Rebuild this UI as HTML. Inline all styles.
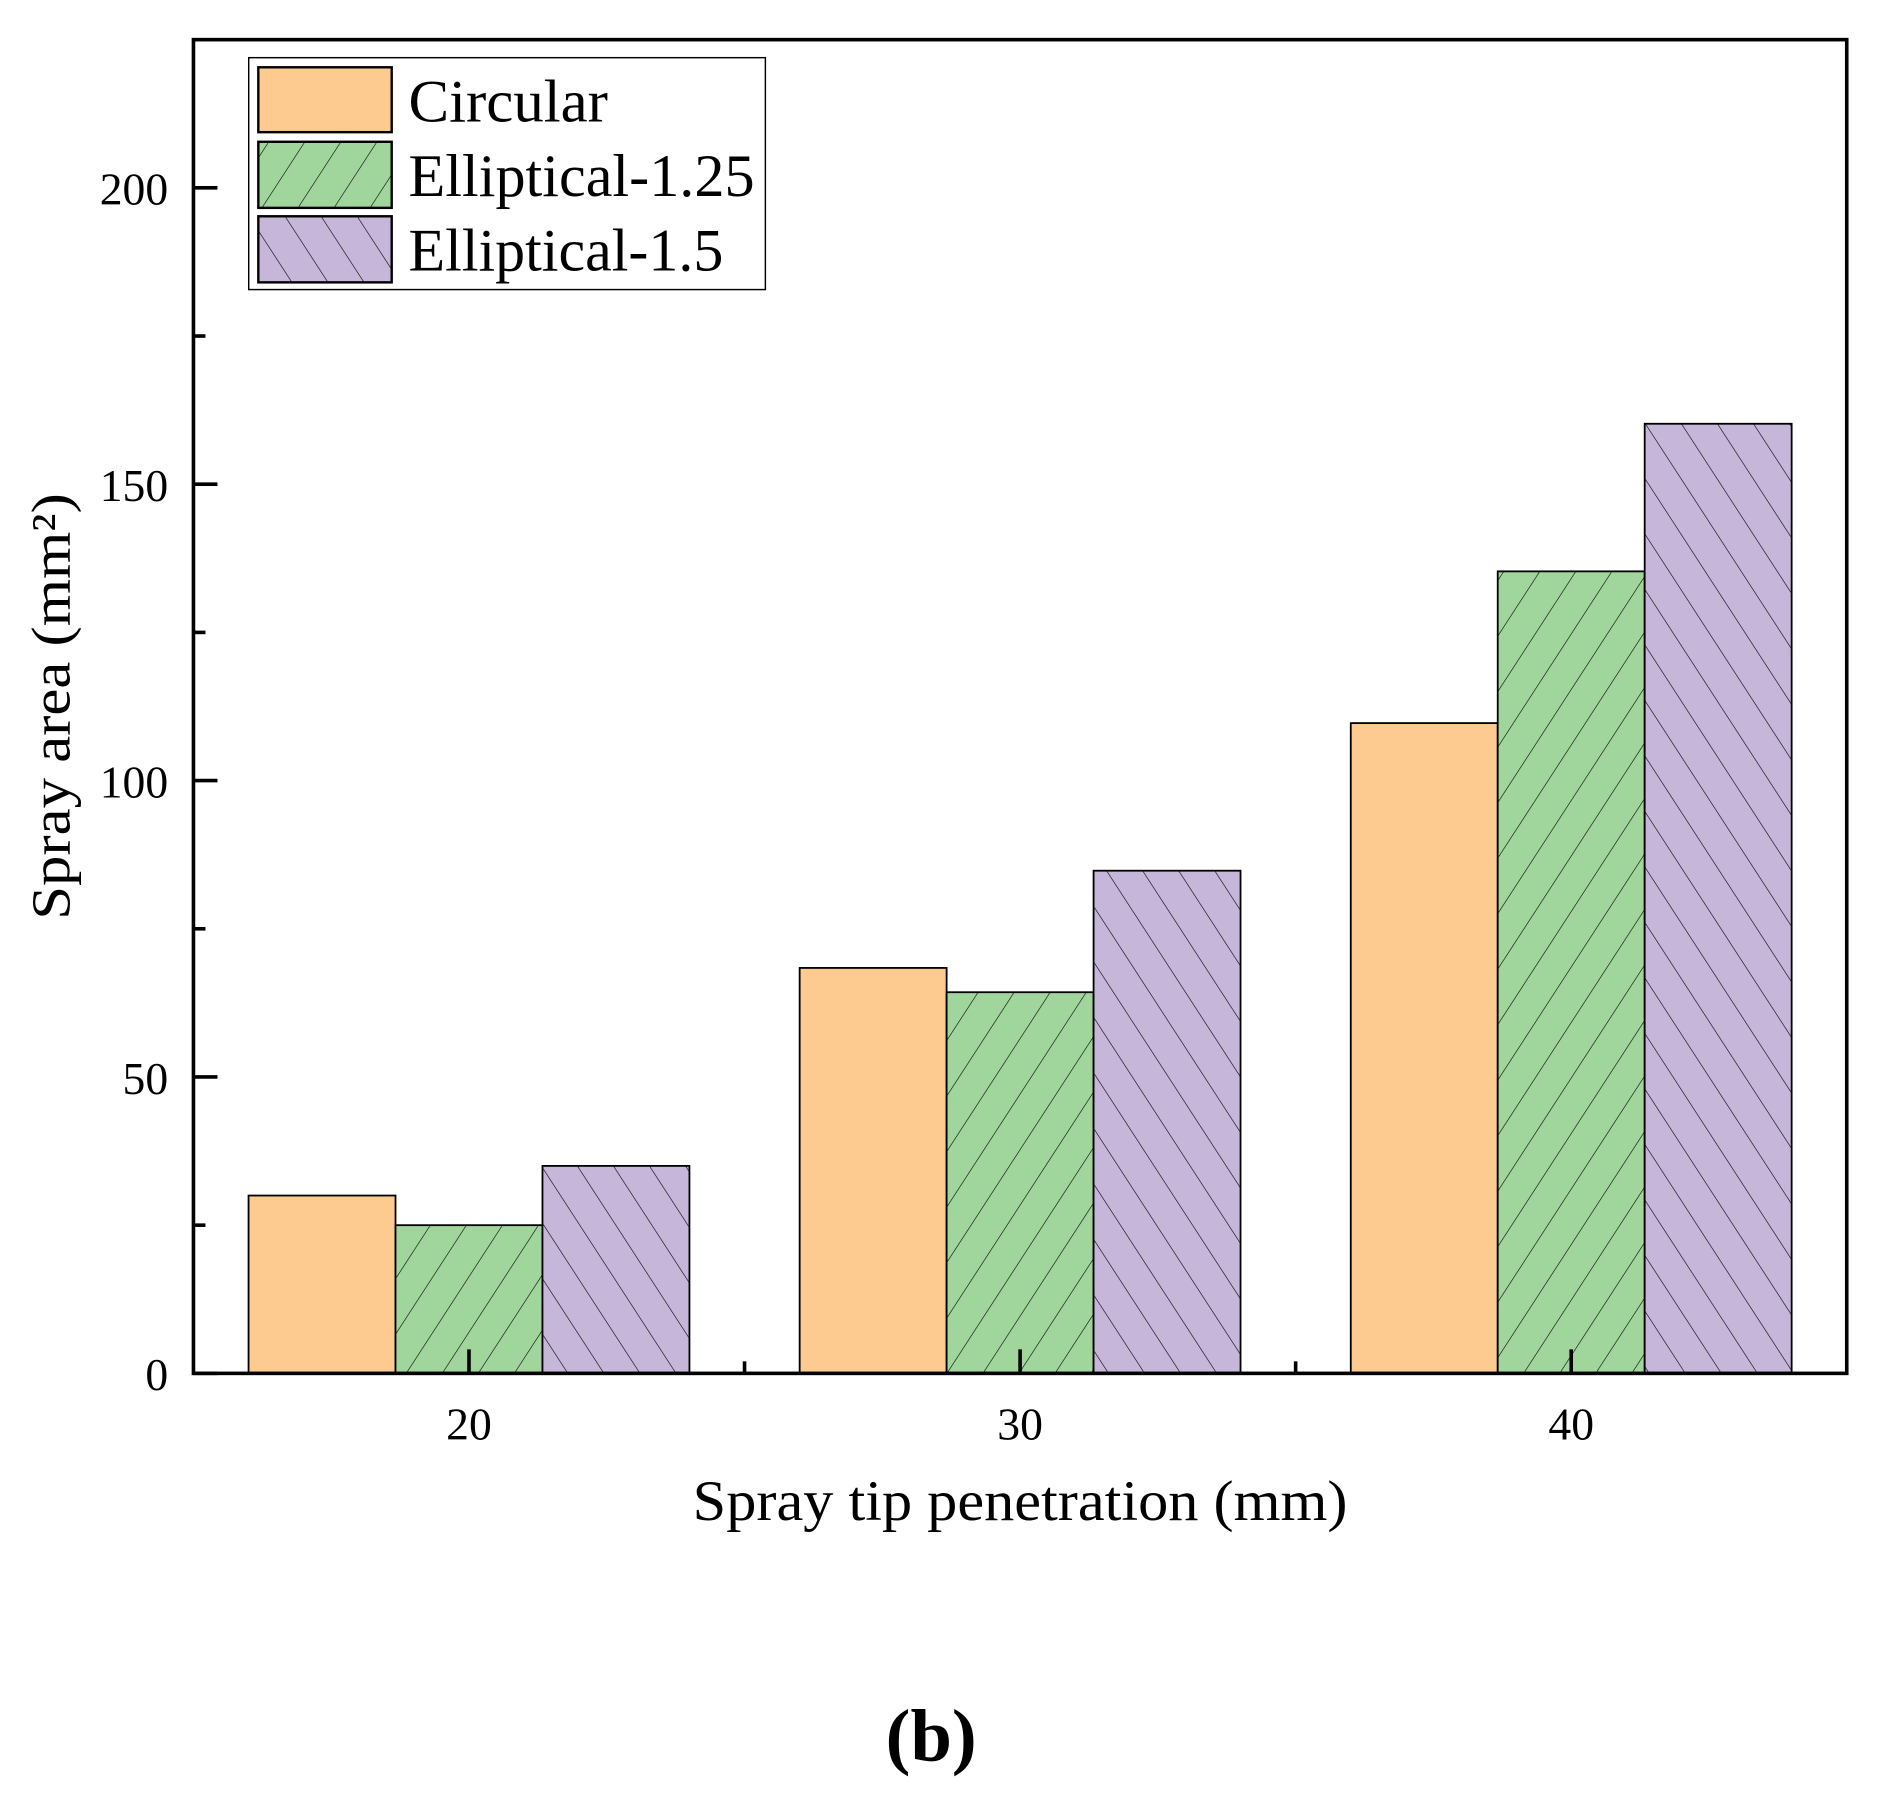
<!DOCTYPE html>
<html><head><meta charset="utf-8"><style>html,body{margin:0;padding:0;background:#fff}svg{display:block}</style></head>
<body>
<svg width="1884" height="1804" viewBox="0 0 1568 1501.4" preserveAspectRatio="none" xmlns="http://www.w3.org/2000/svg" font-family="'Liberation Serif', serif">
<defs>
<pattern id="hg" patternUnits="userSpaceOnUse" width="30" height="30" patternTransform="skewX(-33)">
<rect width="30" height="30" fill="#a0d69c"/><line x1="0" y1="0" x2="0" y2="30" stroke="#111" stroke-width="1.3"/></pattern>
<pattern id="hp" patternUnits="userSpaceOnUse" width="30" height="30" patternTransform="skewX(33)">
<rect width="30" height="30" fill="#c6b6d9"/><line x1="0" y1="0" x2="0" y2="30" stroke="#111" stroke-width="1.3"/></pattern>
</defs>
<g id="plot"></g>
<text transform="translate(58,588) rotate(-90)" text-anchor="middle" font-size="46" textLength="355" lengthAdjust="spacingAndGlyphs">Spray area (mm²)</text>
<text x="849" y="1265" text-anchor="middle" font-size="48" textLength="545" lengthAdjust="spacingAndGlyphs">Spray tip penetration (mm)</text>
<text x="775" y="1465" text-anchor="middle" font-size="62" font-weight="bold">(b)</text>
<g>
<rect x="207" y="48" width="430" height="193" fill="#fff" stroke="#000" stroke-width="1.2"/>
<rect x="215" y="56" width="111" height="54" fill="#fdcb8f" stroke="#000" stroke-width="2"/>
<rect x="215" y="118" width="111" height="55" fill="url(#hg)" stroke="#000" stroke-width="2"/>
<rect x="215" y="180" width="111" height="55" fill="url(#hp)" stroke="#000" stroke-width="2"/>
<text x="340" y="101" font-size="50" textLength="166" lengthAdjust="spacingAndGlyphs">Circular</text>
<text x="340" y="163" font-size="50" textLength="288" lengthAdjust="spacingAndGlyphs">Elliptical-1.25</text>
<text x="340" y="225" font-size="50" textLength="262" lengthAdjust="spacingAndGlyphs">Elliptical-1.5</text>
</g>
</svg>
<script>
const categories = [20, 30, 40];
const seriesNames = ['Circular', 'Elliptical-1.25', 'Elliptical-1.5'];
const circular = [30, 68.4, 109.7];
const elliptical125 = [25, 64.3, 135.3];
const elliptical15 = [35, 84.8, 160.2];
const yTicks = [0, 50, 100, 150, 200];
const xTickLabels = ['20', '30', '40'];
const series = [circular, elliptical125, elliptical15];
const fills = ['#fdcb8f', 'url(#hg)', 'url(#hp)'];
const NS = 'http://www.w3.org/2000/svg';
const L = 161, R = 1537, T = 33, B = 1143;
const xMin = 15, xMax = 45, yMin = 0, yMax = 225;
const xs = v => L + (v - xMin) / (xMax - xMin) * (R - L);
const ys = v => B - (v - yMin) / (yMax - yMin) * (B - T);
const g = document.getElementById('plot');
function mk(tag, attrs) { const e = document.createElementNS(NS, tag); for (const k in attrs) e.setAttribute(k, attrs[k]); g.appendChild(e); return e; }
const bw = 8 / 3;
categories.forEach((c, i) => {
  series.forEach((s, j) => {
    const x0 = xs(c - 4 + j * bw), x1 = xs(c - 4 + (j + 1) * bw);
    const r = mk('rect', { x: x0, y: ys(s[i]), width: x1 - x0, height: ys(0) - ys(s[i]), fill: fills[j], stroke: '#000', 'stroke-width': 1.5 });
    
    
  });
});
const fr = mk('rect', { x: L, y: T, width: R - L, height: B - T, fill: 'none', stroke: '#000', 'stroke-width': 3 });


yTicks.forEach(v => {
  const y = ys(v);
  const t = mk('line', { x1: L, x2: L + 20, y1: y, y2: y, stroke: '#000', 'stroke-width': 3 });
  
  
  const lb = mk('text', { x: 140, y: y + 14, 'text-anchor': 'end', 'font-size': 38 });
  lb.textContent = String(v);
  
  
  if (v + 25 < yMax) {
    const m = mk('line', { x1: L, x2: L + 10, y1: ys(v + 25), y2: ys(v + 25), stroke: '#000', 'stroke-width': 3 });
    
    
  }
});
categories.forEach((c, i) => {
  const x = xs(c);
  const t = mk('line', { x1: x, x2: x, y1: B, y2: B - 20, stroke: '#000', 'stroke-width': 3 });
  
  
  const lb = mk('text', { x: x, y: 1198, 'text-anchor': 'middle', 'font-size': 38 });
  lb.textContent = xTickLabels[i];
  
  
  if (i < categories.length - 1) {
    const mx = xs(c + 5);
    const m = mk('line', { x1: mx, x2: mx, y1: B, y2: B - 10, stroke: '#000', 'stroke-width': 3 });
    
    
  }
});
</script>
</body></html>
